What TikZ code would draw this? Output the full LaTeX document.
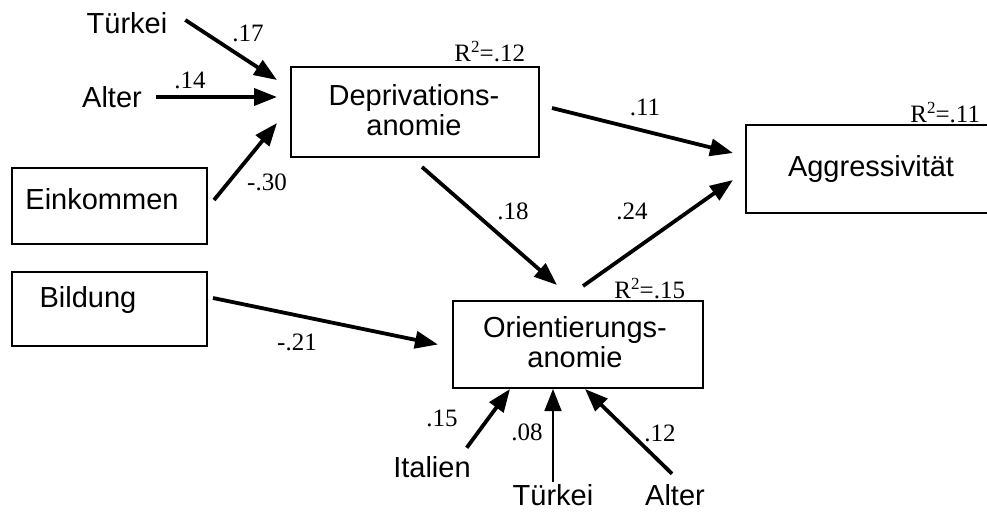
\documentclass[tikz,border=0pt]{standalone}
\usepackage{fontspec}
\setmainfont{Liberation Serif}
\newfontfamily\arialf{Liberation Sans}
\usetikzlibrary{arrows.meta}
\begin{document}
\begin{tikzpicture}[x=1pt,y=-1pt,
  box/.style={draw, line width=1.6pt, inner sep=0pt, outer sep=0pt, rectangle},
  lbl/.style={font=\arialf\fontsize{29}{30}\selectfont, inner sep=0pt, outer sep=0pt, align=center},
  num/.style={font=\fontsize{25}{25}\selectfont, inner sep=0pt, outer sep=0pt},
  arr/.style={line width=3.8pt, -{Triangle[length=23pt,width=17pt]}},
  thinarr/.style={line width=1.6pt, -{Triangle[length=22pt,width=17pt]}},
  rsq/.style={font=\fontsize{25}{25}\selectfont, inner sep=0pt, outer sep=0pt, anchor=base east}
]
\clip (0,0) rectangle (987,511);
\fill[white] (0,0) rectangle (987,511);

% boxes
\node[box, minimum width=248pt, minimum height=90pt] (dep) at (415,112) {};
\node[box, minimum width=250pt, minimum height=88pt] (agg) at (871,169) {};
\node[box, minimum width=250pt, minimum height=87pt] (orient) at (578,344.5) {};
\node[box, minimum width=195pt, minimum height=76pt] (eink) at (109.5,206) {};
\node[box, minimum width=195pt, minimum height=74pt] (bild) at (109.5,309) {};

% box texts
\node[lbl] (deptext) at (414,110) {Deprivations-\\anomie};
\node[lbl] (aggtext) at (871,169) {Aggressivit\"at};
\node[lbl] (orienttext) at (575,342) {Orientierungs-\\anomie};
\node[lbl] (einktext) at (102,199) {Einkommen};
\node[lbl] (bildtext) at (88,300) {Bildung};

% R squared
\node[rsq] (rdep) at ([shift={(-14,-6)}]dep.north east) {R\raisebox{9pt}{\fontsize{17}{17}\selectfont 2}=.12};
\node[rsq] (ragg) at ([shift={(-16,-3)}]agg.north east) {R\raisebox{9pt}{\fontsize{17}{17}\selectfont 2}=.11};
\node[rsq] (rorient) at ([shift={(-18,-3)}]orient.north east) {R\raisebox{9pt}{\fontsize{17}{17}\selectfont 2}=.15};

% free variables
\node[lbl] (tA) at (127,23) {T\"urkei};
\node[lbl] (aA) at (112,97) {Alter};
\node[lbl] (ital) at (432,467) {Italien};
\node[lbl] (tB) at (553,495) {T\"urkei};
\node[lbl] (aB) at (675,495) {Alter};

% arrows
\draw[arr] ([shift={(18,-3)}]tA.east) -- ([shift={(-14,-32)}]dep.west);
\draw[arr] ([shift={(14,0)}]aA.east) -- ([shift={(-14,-15)}]dep.west);
\draw[arr] ([shift={(7,-6)}]eink.east) -- ([shift={(-14,11)}]dep.west);
\draw[arr] ([shift={(13,-4)}]dep.east) -- ([shift={(-13,-16)}]agg.west);
\draw[arr] ([shift={(7,10)}]dep.south) -- ([shift={(-21,-16)}]orient.north);
\draw[arr] ([shift={(5,-15)}]orient.north) -- ([shift={(-13,11)}]agg.west);
\draw[arr] ([shift={(6,-11)}]bild.east) -- ([shift={(-15,0)}]orient.west);
\draw[arr] ([shift={(-4,-8.6)}]ital.north east) -- ([shift={(-68,1)}]orient.south);
\draw[thinarr] ([shift={(0,-2.6)}]tB.north) -- ([shift={(-25,1)}]orient.south);
\draw[arr] ([shift={(-3,-10.6)}]aB.north) -- ([shift={(7,1)}]orient.south);

% coefficients
\node[num] (c17) at (248,33) {.17};
\node[num] (c14) at (190,80) {.14};
\node[num] (c30) at (267,182) {-.30};
\node[num] (c11) at (645,107) {.11};
\node[num] (c18) at (513,211) {.18};
\node[num] (c24) at (632,211) {.24};
\node[num] (c21) at (297,342) {-.21};
\node[num] (c15) at (442,418) {.15};
\node[num] (c08) at (527,432) {.08};
\node[num] (c12) at (660,433) {.12};
\end{tikzpicture}
\end{document}
